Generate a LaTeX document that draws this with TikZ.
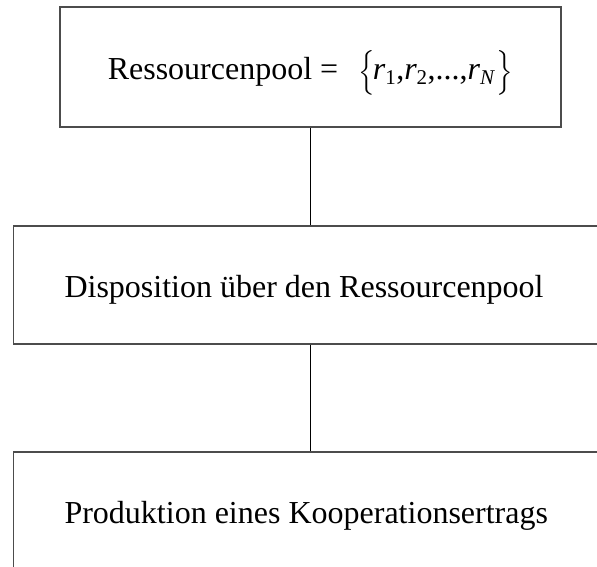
\documentclass[tikz,border=0pt]{standalone}
\usepackage{amsmath}
\usepackage{fontspec}
\setmainfont{Liberation Serif}
\usetikzlibrary{positioning}
\newcommand{\rsub}[1]{\textit{r}_{\hbox{\fontsize{21}{21}\selectfont #1}}}

\begin{document}
\begin{tikzpicture}[
	x=1pt, y=-1pt,
	font=\fontsize{32}{38}\selectfont,
	% Styles for the boxes and connectors
	stufe/.style={draw=black!70, line width=1.1pt, fill=white, inner ysep=0pt, text height=30pt, text depth=6pt},
	breitstufe/.style={stufe, anchor=west, align=flush left, inner xsep=51pt, text width=492pt},
	verbindung/.style={draw=black, line width=0.8pt}
	]
	
	% ==========================================
	% FRAME
	% ==========================================
	\useasboundingbox (0, 0) rectangle (597, 566);
	\clip (0, 0) rectangle (597, 566);
	
	% ==========================================
	% BOXES
	% ==========================================
	\node[stufe, inner xsep=0pt, minimum width=501pt, minimum height=120pt] (ressourcenpool) at (310.5, 67)
		{Ressourcenpool = \hspace{12pt}$\left\{\rule[-9pt]{0pt}{34pt}\kern-2pt\rsub{1}\text{,}\rsub{2}\text{,...,}\rsub{\textit{N}}\kern1pt\right\}$};
	\node[breitstufe, minimum height=118pt] (disposition) at (13, 285)
		{Disposition über den Ressourcenpool};
	\node[breitstufe, minimum height=118pt] (produktion) at (13, 511)
		{Produktion eines Kooperationsertrags};
	
	% ==========================================
	% CONNECTORS
	% ==========================================
	\draw[verbindung] (ressourcenpool.south -| 310, 0) -- (disposition.north -| 310, 0);
	\draw[verbindung] (disposition.south -| 310, 0) -- (produktion.north -| 310, 0);
	
\end{tikzpicture}
\end{document}
